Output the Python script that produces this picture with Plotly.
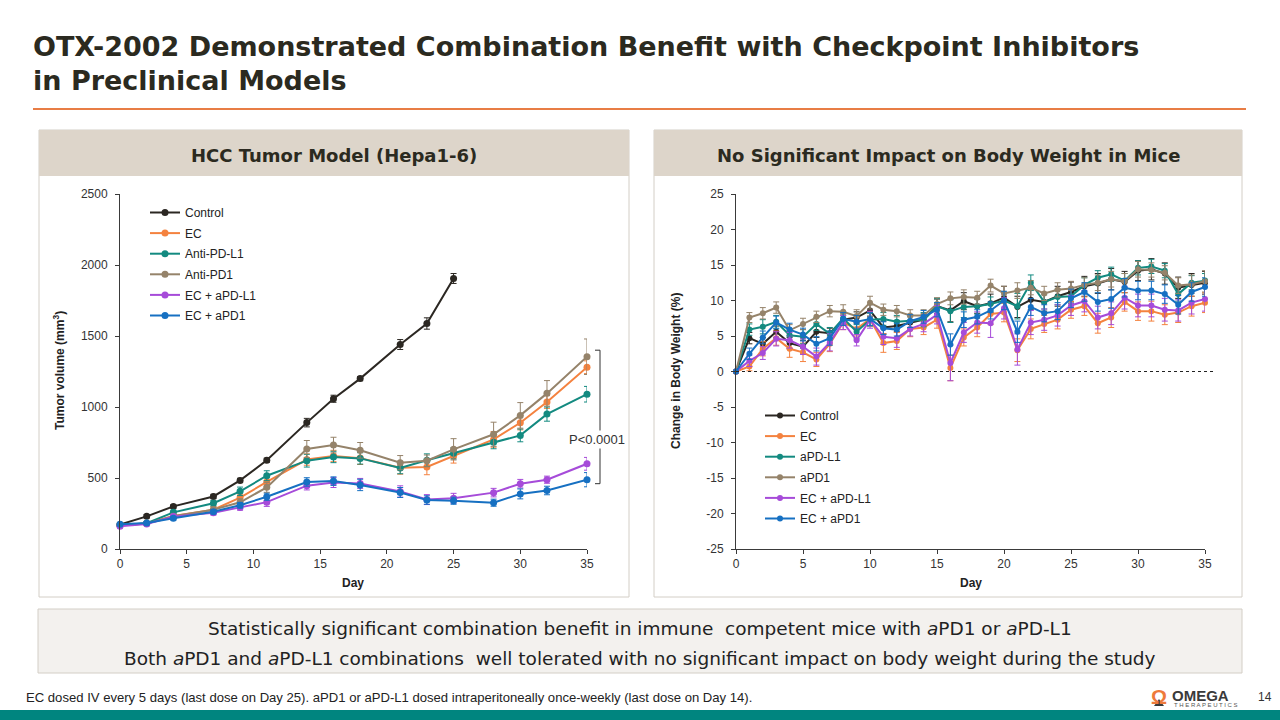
import plotly.graph_objects as go

W, H = 1280, 720

# ---------------- Data: left chart (tumor volume) ----------------
days_tumor = [0, 2, 4, 7, 9, 11, 14, 16, 18, 21, 23, 25, 28, 30, 32, 35]
tumor_control = [172, 230, 300, 370, 483, 625, 890, 1058, 1200, 1440, 1588, 1905]
tumor_control_err = [10, 12, 12, 15, 15, 15, 30, 25, 15, 35, 40, 35]
tumor_ec = [165, 180, 232, 277, 362, 472, 630, 655, 640, 572, 578, 655, 772, 889, 1035, 1280]
tumor_ec_err = [8, 10, 15, 20, 25, 30, 40, 40, 45, 45, 55, 50, 55, 50, 45, 45]
tumor_pdl1 = [168, 182, 258, 322, 406, 516, 622, 648, 638, 570, 625, 674, 751, 800, 950, 1090]
tumor_pdl1_err = [8, 10, 15, 20, 30, 35, 45, 40, 40, 40, 45, 40, 45, 45, 50, 55]
tumor_pd1 = [168, 180, 230, 277, 329, 434, 704, 732, 695, 608, 622, 702, 808, 941, 1096, 1354]
tumor_pd1_err = [8, 10, 15, 20, 25, 35, 60, 55, 55, 50, 40, 75, 85, 90, 90, 125]
tumor_ec_pdl1 = [160, 176, 228, 255, 293, 330, 446, 468, 462, 405, 348, 357, 397, 460, 488, 600]
tumor_ec_pdl1_err = [8, 10, 12, 15, 20, 30, 30, 35, 35, 40, 35, 35, 30, 30, 25, 45]
tumor_ec_pd1 = [175, 183, 216, 263, 308, 368, 472, 478, 451, 398, 345, 340, 326, 388, 412, 488]
tumor_ec_pd1_err = [8, 10, 12, 15, 20, 25, 30, 30, 40, 35, 30, 25, 25, 35, 30, 50]
tumor_names = ["Control", "EC", "Anti-PD-L1", "Anti-PD1", "EC + aPD-L1", "EC + aPD1"]
tumor_yticks = [0, 500, 1000, 1500, 2000, 2500]
day_ticks = [0, 5, 10, 15, 20, 25, 30, 35]

# ---------------- Data: right chart (body weight change) ----------------
days_bw = list(range(0, 36))
bw_control = [0, 4.7, 3.9, 5.6, 4.0, 3.5, 5.6, 5.4, 7.3, 7.6, 8.6, 6.2, 6.4, 6.9, 7.3, 9.2, 8.6, 9.9,
              9.2, 9.6, 10.4, 9.1, 10.1, 9.8, 10.6, 11.2, 12.0, 12.4, 13.0, 12.6, 14.2, 14.4, 13.8, 11.8, 12.2, 12.5]
bw_control_err = [0, 0.8, 0.9, 0.8, 0.8, 0.9, 0.8, 0.7, 0.8, 0.8, 0.8, 0.9, 0.8, 0.8, 0.8, 1.0, 1.6, 1.2,
                  1.0, 1.3, 1.6, 1.5, 1.4, 1.3, 1.4, 1.4, 1.4, 1.4, 1.5, 1.5, 1.4, 1.5, 1.5, 1.5, 1.6, 1.6]
bw_ec = [0, 0.7, 3.2, 4.7, 3.2, 2.7, 1.7, 3.9, 6.9, 6.0, 7.4, 4.0, 4.3, 6.0, 6.2, 7.3, 0.5, 4.8,
         6.2, 8.1, 8.3, 3.0, 6.0, 6.7, 7.3, 8.7, 9.2, 6.8, 7.6, 9.8, 8.5, 8.5, 8.0, 8.3, 9.2, 9.7]
bw_ec_err = [0, 0.6, 1.0, 1.0, 1.2, 1.3, 1.0, 1.1, 1.0, 1.0, 1.0, 1.3, 1.2, 1.1, 1.0, 1.2, 1.8, 1.2,
             1.3, 1.5, 1.3, 1.6, 1.4, 1.2, 1.3, 1.2, 1.3, 1.4, 1.4, 1.3, 1.3, 1.4, 1.4, 1.4, 1.4, 1.4]
bw_pdl1 = [0, 5.9, 6.3, 7.0, 5.1, 4.9, 6.7, 5.3, 7.5, 5.6, 7.3, 7.4, 7.0, 7.1, 7.3, 9.2, 8.5, 9.1,
           9.2, 9.5, 10.0, 9.2, 12.5, 9.8, 10.5, 10.6, 12.2, 13.2, 13.7, 12.8, 14.6, 14.8, 14.2, 10.9, 12.5, 12.8]
bw_pdl1_err = [0, 0.8, 1.0, 0.9, 0.9, 1.0, 0.9, 0.9, 0.9, 1.0, 0.9, 0.9, 0.9, 0.9, 1.0, 1.1, 1.6, 1.5,
               1.1, 1.0, 1.1, 1.8, 1.1, 1.0, 1.1, 1.0, 1.0, 1.0, 1.0, 1.0, 1.0, 1.0, 1.0, 1.0, 1.0, 1.0]
bw_pd1 = [0, 7.6, 8.2, 9.0, 5.8, 6.7, 7.7, 8.5, 8.4, 7.8, 9.7, 8.7, 8.5, 7.9, 7.9, 9.5, 10.3, 10.5,
          10.4, 12.1, 11.0, 11.4, 11.8, 11.0, 11.5, 11.7, 12.2, 12.5, 13.0, 12.7, 14.4, 14.3, 13.9, 12.1, 12.3, 12.7]
bw_pd1_err = [0, 0.7, 0.8, 0.8, 0.8, 0.8, 0.8, 0.8, 1.0, 0.9, 0.9, 0.8, 0.8, 0.8, 0.8, 0.9, 0.9, 1.0,
              0.9, 0.9, 1.0, 1.1, 1.0, 1.0, 1.0, 1.0, 1.0, 1.1, 1.1, 1.1, 1.1, 1.0, 1.0, 1.1, 1.3, 1.5]
bw_ec_pdl1 = [0, 1.5, 2.6, 4.6, 4.4, 3.5, 2.1, 4.1, 6.9, 4.4, 7.3, 4.9, 4.7, 6.0, 6.7, 8.0, 1.2, 5.5,
              6.9, 6.8, 8.9, 3.1, 6.9, 7.3, 7.9, 9.3, 9.9, 7.6, 8.2, 10.4, 9.3, 9.3, 8.7, 8.6, 9.7, 10.2]
bw_ec_pdl1_err = [0, 0.8, 0.9, 1.0, 1.1, 1.1, 1.2, 1.2, 1.0, 0.8, 1.2, 1.1, 1.3, 1.0, 1.1, 1.3, 2.5, 1.4,
                  1.5, 2.0, 1.5, 2.2, 1.7, 1.5, 1.5, 1.4, 1.5, 1.6, 1.6, 1.6, 1.6, 1.6, 1.6, 1.5, 1.6, 1.7]
bw_ec_pd1 = [0, 2.5, 4.8, 6.9, 5.9, 5.2, 3.9, 4.7, 7.4, 7.0, 7.4, 6.1, 5.9, 7.1, 7.7, 8.7, 3.8, 7.3,
             7.7, 8.6, 10.0, 5.6, 9.1, 8.2, 8.5, 10.3, 11.2, 9.8, 10.2, 11.8, 11.4, 11.4, 10.9, 9.4, 11.2, 11.9]
bw_ec_pd1_err = [0, 0.8, 0.9, 0.9, 0.9, 0.9, 1.0, 1.0, 0.9, 0.9, 0.9, 0.9, 0.9, 0.9, 0.9, 1.0, 1.5, 1.1,
                 1.0, 1.2, 1.3, 1.5, 1.2, 1.2, 1.2, 1.3, 1.3, 1.3, 1.3, 1.3, 1.3, 1.3, 1.3, 1.3, 1.3, 1.3]
bw_names = ["Control", "EC", "aPD-L1", "aPD1", "EC + aPD-L1", "EC + aPD1"]
bw_yticks = [-25, -20, -15, -10, -5, 0, 5, 10, 15, 20, 25]
bw_yticklabels = ["-25", "-20", "-15", "-10", "-5", "0", "5", "10", "15", "20", "25"]

colors = ["#2B2722", "#F4823F", "#138A80", "#95836A", "#A64BD9", "#1670C2"]

FONT = "Liberation Sans, Arial, sans-serif"
WIDE = "DejaVu Sans, Liberation Sans, sans-serif"
TXT = "#2B2A20"


def px(x):
    return x / W


def py(y):
    return 1 - y / H


fig = go.Figure()

tumor_series = [
    (tumor_control, tumor_control_err),
    (tumor_ec, tumor_ec_err),
    (tumor_pdl1, tumor_pdl1_err),
    (tumor_pd1, tumor_pd1_err),
    (tumor_ec_pdl1, tumor_ec_pdl1_err),
    (tumor_ec_pd1, tumor_ec_pd1_err),
]
for i, (name, (vals, errs), c) in enumerate(zip(tumor_names, tumor_series, colors)):
    fig.add_trace(go.Scatter(
        x=days_tumor[:len(vals)], y=vals, name=name, mode="lines+markers",
        line=dict(color=c, width=2), marker=dict(color=c, size=7),
        error_y=dict(type="data", array=errs, color=c, thickness=1, width=3),
        xaxis="x", yaxis="y", legend="legend", legendgroup=f"t{i}", cliponaxis=False,
    ))

bw_series = [
    (bw_control, bw_control_err),
    (bw_ec, bw_ec_err),
    (bw_pdl1, bw_pdl1_err),
    (bw_pd1, bw_pd1_err),
    (bw_ec_pdl1, bw_ec_pdl1_err),
    (bw_ec_pd1, bw_ec_pd1_err),
]
for i, (name, (vals, errs), c) in enumerate(zip(bw_names, bw_series, colors)):
    fig.add_trace(go.Scatter(
        x=days_bw, y=vals, name=name, mode="lines+markers",
        line=dict(color=c, width=2), marker=dict(color=c, size=6),
        error_y=dict(type="data", array=errs, color=c, thickness=1, width=3),
        xaxis="x2", yaxis="y2", legend="legend2", legendgroup=f"b{i}", cliponaxis=False,
    ))

axis_common = dict(
    showgrid=False, zeroline=False, showline=True, linecolor="#3A3A3A", linewidth=1,
    ticks="outside", ticklen=4, tickcolor="#3A3A3A", automargin=False,
    tickfont=dict(family=FONT, size=12, color="#333333"),
)

fig.update_layout(
    template="none",
    width=W, height=H, margin=dict(l=0, r=0, t=0, b=0, pad=0, autoexpand=False),
    paper_bgcolor="white", plot_bgcolor="white",
    font=dict(family=FONT, color="#333333"),
    xaxis=dict(domain=[px(120), px(587)], range=[0, 35], tickvals=day_ticks, anchor="y", **axis_common),
    yaxis=dict(domain=[py(549), py(194)], range=[0, 2500], tickvals=tumor_yticks, anchor="x",
               ticklabelstandoff=5, **axis_common),
    xaxis2=dict(domain=[px(736), px(1205)], range=[0, 35], tickvals=day_ticks, anchor="y2", **axis_common),
    yaxis2=dict(domain=[py(549), py(194)], range=[-25, 25], tickvals=bw_yticks, ticktext=bw_yticklabels,
                anchor="x2", ticklabelstandoff=5, **axis_common),
    legend=dict(x=px(145), y=py(198), xanchor="left", yanchor="top", bgcolor="rgba(0,0,0,0)",
                font=dict(family=FONT, size=12, color="#222222"), tracegroupgap=1.6, borderwidth=0),
    legend2=dict(x=px(760), y=py(401), xanchor="left", yanchor="top", bgcolor="rgba(0,0,0,0)",
                 font=dict(family=FONT, size=12, color="#222222"), tracegroupgap=1.6, borderwidth=0),
    showlegend=True,
)

shapes = []
# panel borders and header bands
for x0, x1 in [(39, 629), (654, 1242)]:
    shapes.append(dict(type="rect", xref="paper", yref="paper", x0=px(x0), x1=px(x1), y0=py(597), y1=py(130),
                       line=dict(color="#D3CEC6", width=1), fillcolor="rgba(0,0,0,0)", layer="below"))
    shapes.append(dict(type="rect", xref="paper", yref="paper", x0=px(x0), x1=px(x1), y0=py(176), y1=py(130),
                       line=dict(width=0), fillcolor="#DDD5CA", layer="below"))
# title underline
shapes.append(dict(type="line", xref="paper", yref="paper", x0=px(33), x1=px(1246), y0=py(109), y1=py(109),
                   line=dict(color="#E87D45", width=2)))
# bottom summary box
shapes.append(dict(type="rect", xref="paper", yref="paper", x0=px(38), x1=px(1242), y0=py(673), y1=py(609),
                   line=dict(color="#D3CEC6", width=1), fillcolor="#F3F1EE", layer="below"))
# footer teal bar
shapes.append(dict(type="rect", xref="paper", yref="paper", x0=0, x1=1, y0=0, y1=py(710),
                   line=dict(width=0), fillcolor="#00857F"))
# zero reference line (right chart)
shapes.append(dict(type="line", xref="paper", yref="y2", x0=px(736), x1=px(1213), y0=0, y1=0,
                   line=dict(color="#222222", width=1, dash="dot")))
# significance bracket (left chart)
shapes.append(dict(type="path", xref="paper", yref="y",
                   path=f"M {px(595)},1400 L {px(600)},1400 L {px(600)},460 L {px(595)},460",
                   line=dict(color="#333333", width=1)))
# logo chevron
shapes.append(dict(type="path", xref="paper", yref="paper",
                   path=f"M {px(1154)},{py(706)} L {px(1159)},{py(699)} L {px(1164)},{py(706)} Z",
                   line=dict(width=0), fillcolor="#3A3A3A"))

annotations = [
    dict(text="<b>OTX-2002 Demonstrated Combination Benefit with Checkpoint Inhibitors</b>",
         x=px(31), y=py(47), xanchor="left", yanchor="middle",
         font=dict(family=WIDE, size=27, color=TXT)),
    dict(text="<b>in Preclinical Models</b>",
         x=px(31), y=py(80), xanchor="left", yanchor="middle",
         font=dict(family=WIDE, size=27, color=TXT)),
    dict(text="<b>HCC Tumor Model (Hepa1-6)</b>", x=px(334), y=py(155), xanchor="center", yanchor="middle",
         font=dict(family=WIDE, size=18, color=TXT)),
    dict(text="<b>No Significant Impact on Body Weight in Mice</b>", x=px(948), y=py(155),
         xanchor="center", yanchor="middle", font=dict(family=WIDE, size=18, color=TXT)),
    dict(text="<b>Day</b>", x=px(353), y=py(583), xanchor="center", yanchor="middle",
         font=dict(family=FONT, size=12, color="#222222")),
    dict(text="<b>Day</b>", x=px(971), y=py(583), xanchor="center", yanchor="middle",
         font=dict(family=FONT, size=12, color="#222222")),
    dict(text="<b>Tumor volume (mm<sup>3</sup>)</b>", x=px(59), y=py(371), xanchor="center", yanchor="middle",
         textangle=-90, font=dict(family=FONT, size=12, color="#222222")),
    dict(text="<b>Change in Body Weight (%)</b>", x=px(676), y=py(371), xanchor="center", yanchor="middle",
         textangle=-90, font=dict(family=FONT, size=12, color="#222222")),
    dict(text="P<0.0001", x=px(597), y=py(439), xanchor="center", yanchor="middle",
         bgcolor="white", borderpad=1, font=dict(family=FONT, size=13, color="#333333")),
    dict(text="Statistically significant combination benefit in immune  competent mice with <i>a</i>PD1 or <i>a</i>PD-L1",
         x=px(640), y=py(628), xanchor="center", yanchor="middle",
         font=dict(family=WIDE, size=18.5, color="#222222")),
    dict(text="Both <i>a</i>PD1 and <i>a</i>PD-L1 combinations  well tolerated with no significant impact on body weight during the study",
         x=px(640), y=py(658), xanchor="center", yanchor="middle",
         font=dict(family=WIDE, size=18.5, color="#222222")),
    dict(text="EC dosed IV every 5 days (last dose on Day 25). aPD1 or aPD-L1 dosed intraperitoneally once-weekly (last dose on Day 14).",
         x=px(24), y=py(697), xanchor="left", yanchor="middle",
         font=dict(family=FONT, size=13.1, color="#222222")),
    dict(text="<b>Ω</b>", x=px(1159), y=py(697), xanchor="center", yanchor="middle",
         font=dict(family=FONT, size=20, color="#EE7A3B")),
    dict(text="<b>OMEGA</b>", x=px(1170), y=py(695), xanchor="left", yanchor="middle",
         font=dict(family=FONT, size=15, color="#3A3A3A")),
    dict(text="T H E R A P E U T I C S", x=px(1172), y=py(705), xanchor="left", yanchor="middle",
         font=dict(family=FONT, size=6, color="#555555")),
    dict(text="14", x=px(1265), y=py(697), xanchor="center", yanchor="middle",
         font=dict(family=FONT, size=12, color="#333333")),
]
for a in annotations:
    a.setdefault("xref", "paper")
    a.setdefault("yref", "paper")
    a.setdefault("showarrow", False)

fig.update_layout(shapes=shapes, annotations=annotations)
fig.write_html("out.html", config={"displayModeBar": False},
               post_script="document.body.style.margin='0px';document.body.style.overflow='hidden';")
